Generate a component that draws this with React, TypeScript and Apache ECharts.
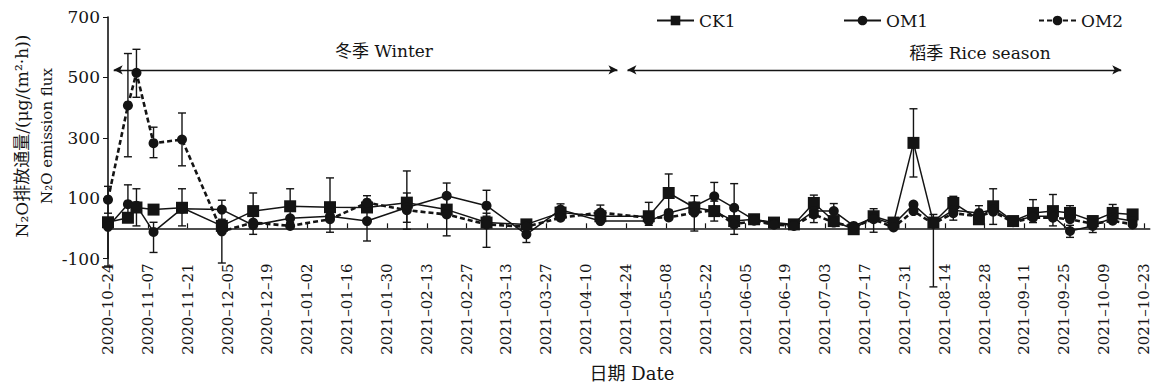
import React, { useEffect, useRef } from 'react';
import * as echarts from 'echarts';

// Sampling dates
const sampleDates = [
  '2020-10-24', '2020-10-31', '2020-11-03', '2020-11-09', '2020-11-19', '2020-12-03', '2020-12-14',
  '2020-12-27', '2021-01-10', '2021-01-23', '2021-02-06', '2021-02-20', '2021-03-06', '2021-03-20',
  '2021-04-01', '2021-04-15', '2021-05-02', '2021-05-09', '2021-05-18', '2021-05-25', '2021-06-01',
  '2021-06-08', '2021-06-15', '2021-06-22', '2021-06-29', '2021-07-06', '2021-07-13', '2021-07-20',
  '2021-07-27', '2021-08-03', '2021-08-10', '2021-08-17', '2021-08-26', '2021-08-31', '2021-09-07',
  '2021-09-14', '2021-09-21', '2021-09-27', '2021-10-05', '2021-10-12', '2021-10-19',
];

const ck1 = [20, 35, 69, 62, 68, 8, 57, 73, 70, 69, 85, 62, 19, 13, 52, 40, 40, 117, 69, 57, 24, 30, 19, 13, 84, 24, -3, 40, 19, 283, 19, 84, 30, 73, 24, 51, 57, 51, 24, 51, 46];
const om1 = [5, 80, 75, -12, 65, 62, 10, 33, 40, 24, 69, 108, 75, -20, 62, 24, 24, 51, 73, 106, 68, 28, 15, 10, 57, 57, 8, 35, 13, 79, 19, 60, 51, 62, 22, 40, 40, -9, 8, 35, 24];
const om2 = [95, 407, 515, 282, 294, -10, 19, 8, 30, 85, 60, 46, 13, 5, 35, 52, 35, 36, 52, 60, 13, 25, 12, 8, 46, 19, 5, 30, 3, 57, 15, 50, 40, 55, 20, 35, 35, 30, 15, 25, 13];

// Error bar bounds [low, high]
const ck1Err: (number[] | null)[] = [
  null, null, [8, 131], null, [8, 131], null, [-20, 117], [20, 131], [-13, 167], [-42, 108],
  [-3, 190], [-25, 100], [-63, 50], null, null, null, [10, 86], [60, 180], [-9, 108], [24, 90],
  [-20, 60], null, null, null, [19, 110], null, [-16, 10], [-13, 65], null, [170, 396],
  [-194, 46], [27, 106], null, [13, 131], null, [19, 95], [8, 112], [30, 75], [-14, 40], [30, 79], null,
];
const om1Err: (number[] | null)[] = [
  [-125, 30], [20, 144], null, [-80, 20], null, [30, 93], null, null, null, null,
  [20, 117], [70, 150], [40, 126], [-47, 5], [40, 81], null, null, null, null, [70, 152],
  [20, 148], null, null, null, null, [30, 82], null, null, null, null,
  null, null, [30, 75], null, null, null, null, [-30, 10], null, null, null,
];
const om2Err: (number[] | null)[] = [
  [50, 139], [237, 579], [434, 593], [234, 335], [207, 382], [-115, 20], null, null, null, null,
  null, null, null, null, null, [30, 77], null, null, null, null,
  null, null, null, null, null, null, null, null, null, null,
  null, null, null, null, null, null, null, null, null, null, null,
];

const tickLabels = [
  '2020-10-24', '2020-11-07', '2020-11-21', '2020-12-05', '2020-12-19', '2021-01-02', '2021-01-16',
  '2021-01-30', '2021-02-13', '2021-02-27', '2021-03-13', '2021-03-27', '2021-04-10', '2021-04-24',
  '2021-05-08', '2021-05-22', '2021-06-05', '2021-06-19', '2021-07-03', '2021-07-17', '2021-07-31',
  '2021-08-14', '2021-08-28', '2021-09-11', '2021-09-25', '2021-10-09', '2021-10-23',
];
const yTicks = [-100, 100, 300, 500, 700];

const FONT = "'DejaVu Serif', 'Noto Sans CJK SC', serif";
const INK = '#141414';

const toUTC = (s: string) => {
  const [y, m, d] = s.split('-').map(Number);
  return Date.UTC(y, m - 1, d);
};
const BASE = toUTC(tickLabels[0]);
const dayOf = (s: string) => Math.round((toUTC(s) - BASE) / 86400000);

export default function App() {
  const ref = useRef<HTMLDivElement>(null);
  useEffect(() => {
    const chart = echarts.init(ref.current!, null, { renderer: 'svg' });
    const days = sampleDates.map(dayOf);
    const tickDays = tickLabels.map(dayOf);
    const pts = (arr: number[]) => arr.map((v, i) => [days[i], v]);
    const errData = (arr: (number[] | null)[]) =>
      arr.map((e, i) => (e ? [days[i], e[0], e[1]] : null)).filter((x) => x !== null);

    const errSeries = (name: string, arr: (number[] | null)[]) => ({
      type: 'custom',
      name,
      data: errData(arr),
      encode: { x: 0, y: [1, 2] },
      z: 1,
      silent: true,
      renderItem: (params: any, api: any) => {
        const x = api.value(0);
        const lo = api.coord([x, api.value(1)]);
        const hi = api.coord([x, api.value(2)]);
        const w = 4;
        const style = { stroke: INK, lineWidth: 1.4 };
        return {
          type: 'group',
          children: [
            { type: 'line', shape: { x1: lo[0], y1: lo[1], x2: hi[0], y2: hi[1] }, style },
            { type: 'line', shape: { x1: lo[0] - w, y1: lo[1], x2: lo[0] + w, y2: lo[1] }, style },
            { type: 'line', shape: { x1: hi[0] - w, y1: hi[1], x2: hi[0] + w, y2: hi[1] }, style },
          ],
        };
      },
    });

    const legendBase = {
      top: 12,
      padding: 0,
      itemWidth: 37,
      itemHeight: 12,
      textStyle: { fontFamily: FONT, fontSize: 17, color: INK },
      selectedMode: false,
    };

    const option: any = {
      animation: false,
      backgroundColor: '#fff',
      grid: { left: 108, top: 17, width: 1041.7, height: 241.5, containLabel: false },
      legend: [
        { ...legendBase, left: 656, data: ['CK1'] },
        { ...legendBase, left: 843, data: ['OM1'] },
        { ...legendBase, left: 1038, data: ['OM2'] },
      ],
      xAxis: {
        type: 'value',
        min: 0,
        max: 366,
        interval: 14,
        splitLine: { show: false },
        axisLine: { onZero: true, lineStyle: { color: INK, width: 1.6 } },
        axisTick: { inside: true, length: 5, customValues: tickDays, lineStyle: { color: INK, width: 1.2 } },
        axisLabel: {
          customValues: tickDays,
          rotate: 90,
          margin: 5,
          fontFamily: FONT,
          fontSize: 15,
          color: INK,
          formatter: (v: number) => {
            const i = tickDays.indexOf(Math.round(v));
            return i >= 0 ? tickLabels[i].replace(/-/g, '\u2013') : '';
          },
        },
      },
      yAxis: {
        type: 'value',
        min: -100,
        max: 700,
        interval: 100,
        splitLine: { show: false },
        axisLine: { show: true, onZero: false, lineStyle: { color: INK, width: 1.6 } },
        axisTick: { show: true, inside: false, length: 5, customValues: yTicks, lineStyle: { color: INK } },
        axisLabel: {
          customValues: yTicks,
          margin: 8,
          fontFamily: FONT,
          fontSize: 17,
          color: INK,
        },
      },
      graphic: [
        {
          type: 'text', x: 384, y: 51,
          style: { text: '冬季 Winter', fontFamily: FONT, fontSize: 17, fill: INK, align: 'center', verticalAlign: 'middle' },
        },
        {
          type: 'text', x: 980, y: 53,
          style: { text: '稻季 Rice season', fontFamily: FONT, fontSize: 17, fill: INK, align: 'center', verticalAlign: 'middle' },
        },
        {
          type: 'text', x: 632, y: 373,
          style: { text: '日期 Date', fontFamily: FONT, fontSize: 18, fill: INK, align: 'center', verticalAlign: 'middle' },
        },
        {
          type: 'text', x: 34.5, y: 136, rotation: Math.PI / 2,
          style: {
            text: '{a|N₂O排放通量/(μg/(m²·h))}\n{b|N₂O emission flux}',
            fill: INK, align: 'center', verticalAlign: 'middle',
            rich: {
              a: { fontFamily: FONT, fontSize: 17, lineHeight: 25, fill: INK },
              b: { fontFamily: FONT, fontSize: 15, lineHeight: 25, fill: INK },
            },
          },
        },
      ],
      series: [
        errSeries('err-ck1', ck1Err),
        errSeries('err-om1', om1Err),
        errSeries('err-om2', om2Err),
        {
          name: 'CK1',
          type: 'line',
          data: pts(ck1),
          symbol: 'rect',
          symbolSize: 12,
          z: 3,
          lineStyle: { color: INK, width: 1.5, type: 'solid' },
          itemStyle: { color: INK },
          markLine: {
            silent: true,
            symbol: ['arrow', 'arrow'],
            symbolSize: [7, 9],
            label: { show: false },
            lineStyle: { color: INK, width: 1.3, type: 'solid' },
            data: [
              [{ coord: [2, 525] }, { coord: [179, 525] }],
              [{ coord: [182.5, 525] }, { coord: [356, 525] }],
            ],
          },
        },
        {
          name: 'OM1',
          type: 'line',
          data: pts(om1),
          symbol: 'circle',
          symbolSize: 10,
          z: 3,
          lineStyle: { color: INK, width: 1.5, type: 'solid' },
          itemStyle: { color: INK },
        },
        {
          name: 'OM2',
          type: 'line',
          data: pts(om2),
          symbol: 'circle',
          symbolSize: 10,
          z: 3,
          lineStyle: { color: INK, width: 2.6, type: [5, 3] },
          itemStyle: { color: INK },
        },
      ],
    };
    chart.setOption(option);
    return () => chart.dispose();
  }, []);
  return (
    <div
      ref={ref}
      style={{ position: 'fixed', left: 0, top: 0, width: 1155, height: 388, background: '#fff' }}
    />
  );
}
